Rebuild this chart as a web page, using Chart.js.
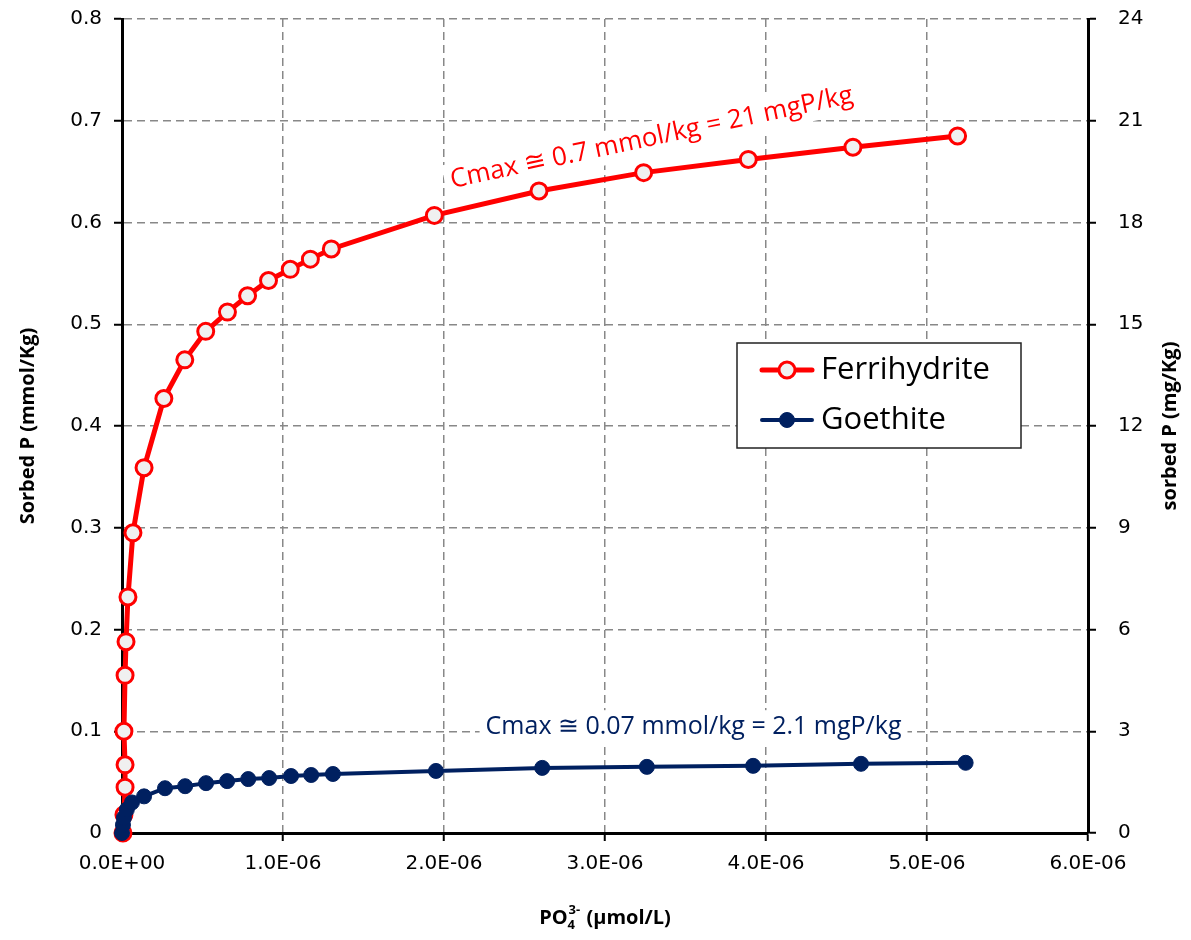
<!DOCTYPE html>
<html>
<head>
<meta charset="utf-8">
<script src="https://cdn.jsdelivr.net/npm/chart.js@4.4.1/dist/chart.umd.min.js"></script>
<style>
html,body{margin:0;padding:0;background:#fff;}
canvas{display:block;}
</style>
</head>
<body>
<canvas id="c" width="1191" height="940"></canvas>
<script>
// ---- Data ----
const ferriX = [0.006e-6, 0.012e-6, 0.019e-6, 0.019e-6, 0.012e-6, 0.019e-6, 0.025e-6, 0.037e-6, 0.068e-6, 0.137e-6, 0.26e-6, 0.39e-6, 0.52e-6, 0.655e-6, 0.78e-6, 0.91e-6, 1.045e-6, 1.17e-6, 1.30e-6, 1.94e-6, 2.59e-6, 3.24e-6, 3.89e-6, 4.54e-6, 5.19e-6];
const ferriY = [0, 0.018, 0.045, 0.067, 0.100, 0.155, 0.188, 0.232, 0.295, 0.359, 0.427, 0.465, 0.493, 0.512, 0.528, 0.543, 0.554, 0.564, 0.574, 0.607, 0.631, 0.649, 0.662, 0.674, 0.685];
const goeX = [0, 0.006e-6, 0.012e-6, 0.03e-6, 0.062e-6, 0.137e-6, 0.267e-6, 0.392e-6, 0.522e-6, 0.653e-6, 0.784e-6, 0.914e-6, 1.05e-6, 1.175e-6, 1.31e-6, 1.95e-6, 2.61e-6, 3.26e-6, 3.92e-6, 4.59e-6, 5.24e-6];
const goeY = [0, 0.008, 0.015, 0.023, 0.030, 0.036, 0.044, 0.046, 0.049, 0.051, 0.053, 0.054, 0.056, 0.057, 0.058, 0.061, 0.064, 0.065, 0.066, 0.068, 0.069];
const xTickLabels = ['0.0E+00', '1.0E-06', '2.0E-06', '3.0E-06', '4.0E-06', '5.0E-06', '6.0E-06'];
const yLeftTickLabels = ['0', '0.1', '0.2', '0.3', '0.4', '0.5', '0.6', '0.7', '0.8'];
const yRightTickLabels = ['0', '3', '6', '9', '12', '15', '18', '21', '24'];
const seriesNames = ['Ferrihydrite', 'Goethite'];
const annotFerri = 'Cmax \u2245 0.7 mmol/kg = 21 mgP/kg';
const annotGoe = 'Cmax \u2245 0.07 mmol/kg = 2.1 mgP/kg';

const RED = '#ff0000';
const NAVY = '#002060';
const TICK_FONT = {family: "'DejaVu Sans', Verdana, sans-serif", size: 20};
const TITLE_FONT = "bold 20px 'Open Sans', sans-serif";
const SMALL_FONT = "bold 13px 'Open Sans', sans-serif";
const NOTE_FONT = "25px 'Open Sans', sans-serif";

const toPts = (xs, ys) => xs.map((x, i) => ({x: x, y: ys[i]}));

function gridOpts(onArea) {
  return {
    drawOnChartArea: onArea,
    color: '#888888',
    lineWidth: 1.5,
    tickColor: '#000000',
    tickLength: 8,
    tickWidth: 2
  };
}

const annotPlugin = {
  id: 'annot',
  beforeDatasetsDraw(chart) {
    const {ctx, scales} = chart;
    const x = scales.x, y = scales.y;
    // Goethite note (horizontal, white box)
    ctx.save();
    ctx.font = NOTE_FONT;
    ctx.textAlign = 'center';
    ctx.textBaseline = 'middle';
    let cx = x.getPixelForValue(3.55e-6), cy = y.getPixelForValue(0.104);
    let w = ctx.measureText(annotGoe).width;
    ctx.fillStyle = '#ffffff';
    ctx.fillRect(cx - w / 2 - 6, cy - 17, w + 12, 34);
    ctx.fillStyle = NAVY;
    ctx.fillText(annotGoe, cx, cy);
    ctx.restore();
    // Ferrihydrite note (rotated)
    ctx.save();
    ctx.font = "26px 'Open Sans', sans-serif";
    ctx.textAlign = 'center';
    ctx.textBaseline = 'middle';
    cx = x.getPixelForValue(3.29e-6); cy = y.getPixelForValue(0.683);
    ctx.translate(cx, cy);
    ctx.rotate(-12 * Math.PI / 180);
    w = ctx.measureText(annotFerri).width;
    ctx.fillStyle = '#ffffff';
    ctx.fillRect(-w / 2 - 6, -17, w + 12, 34);
    ctx.fillStyle = RED;
    ctx.fillText(annotFerri, 0, 0);
    ctx.restore();
  },
  afterDraw(chart) {
    const {ctx, chartArea} = chart;
    // Axis titles
    ctx.save();
    ctx.fillStyle = '#000';
    ctx.font = TITLE_FONT;
    ctx.textAlign = 'center';
    ctx.textBaseline = 'middle';
    const midY = (chartArea.top + chartArea.bottom) / 2;
    ctx.save();
    ctx.translate(28, midY);
    ctx.rotate(-Math.PI / 2);
    ctx.fillText('Sorbed P (mmol/Kg)', 0, 0);
    ctx.restore();
    ctx.save();
    ctx.translate(1170, midY);
    ctx.rotate(-Math.PI / 2);
    ctx.fillText('sorbed P (mg/Kg)', 0, 0);
    ctx.restore();
    // x title with sub/superscript
    const midX = (chartArea.left + chartArea.right) / 2;
    const ty = 918;
    ctx.textAlign = 'left';
    const p1 = 'PO', p2 = '4', p3 = '3-', p4 = ' (\u00b5mol/L)';
    ctx.font = TITLE_FONT; const w1 = ctx.measureText(p1).width, w4 = ctx.measureText(p4).width;
    ctx.font = SMALL_FONT; const w2 = ctx.measureText(p2).width, w3 = ctx.measureText(p3).width;
    const tot = w1 + Math.max(w2, w3) + w4 + 2;
    let sx = midX - tot / 2;
    ctx.font = TITLE_FONT; ctx.fillText(p1, sx, ty); sx += w1;
    ctx.font = SMALL_FONT; ctx.fillText(p2, sx, ty + 7); ctx.fillText(p3, sx + 1, ty - 8); sx += Math.max(w2, w3) + 2;
    ctx.font = TITLE_FONT; ctx.fillText(p4, sx, ty);
    ctx.restore();

    // Legend
    const ds = chart.data.datasets;
    const bx = 737, by = 343, bw = 284, bh = 105;
    ctx.save();
    ctx.fillStyle = '#ffffff';
    ctx.fillRect(bx, by, bw, bh);
    ctx.strokeStyle = '#222';
    ctx.lineWidth = 1.5;
    ctx.strokeRect(bx, by, bw, bh);
    const rows = [370, 420];
    ds.forEach((d, i) => {
      const ry = rows[i];
      ctx.strokeStyle = d.borderColor;
      ctx.lineWidth = d.borderWidth;
      ctx.lineCap = 'round';
      ctx.beginPath(); ctx.moveTo(762, ry); ctx.lineTo(812, ry); ctx.stroke();
      ctx.beginPath(); ctx.arc(787, ry, d.pointRadius, 0, Math.PI * 2);
      ctx.fillStyle = d.pointBackgroundColor; ctx.fill();
      ctx.lineWidth = d.pointBorderWidth; ctx.strokeStyle = d.pointBorderColor; ctx.stroke();
      ctx.fillStyle = '#000';
      ctx.font = "31px 'Open Sans', sans-serif";
      ctx.textAlign = 'left';
      ctx.textBaseline = 'middle';
      ctx.fillText(d.label, 821, ry);
    });
    ctx.restore();
  }
};

new Chart(document.getElementById('c'), {
  type: 'line',
  data: {
    datasets: [
      {
        label: seriesNames[0],
        data: toPts(ferriX, ferriY),
        borderColor: RED, borderWidth: 5,
        pointRadius: 8, pointBackgroundColor: '#f0f0f0', pointBorderColor: RED, pointBorderWidth: 3,
        tension: 0, order: 1, clip: false
      },
      {
        label: seriesNames[1],
        data: toPts(goeX, goeY),
        borderColor: NAVY, borderWidth: 4,
        pointRadius: 7.5, pointBackgroundColor: NAVY, pointBorderColor: NAVY, pointBorderWidth: 1,
        tension: 0, order: 0, clip: false
      }
    ]
  },
  options: {
    responsive: false,
    animation: false,
    devicePixelRatio: 1,
    layout: {padding: {top: 19, left: 0, right: 0, bottom: 0}},
    plugins: {legend: {display: false}, tooltip: {enabled: false}},
    scales: {
      x: {
        type: 'linear', min: 0, max: 6e-6,
        ticks: {stepSize: 1e-6, color: '#000', font: TICK_FONT, padding: 11, maxRotation: 0,
          callback: (v, i) => xTickLabels[i]},
        grid: gridOpts(true),
        border: {color: '#000', width: 3, dash: [8, 5]},
        afterFit: s => { s.height = 107; s.paddingLeft = 0; s.paddingRight = 0; }
      },
      y: {
        position: 'left', min: 0, max: 0.8,
        ticks: {stepSize: 0.1, color: '#000', font: TICK_FONT, padding: 12,
          callback: (v, i) => yLeftTickLabels[i]},
        grid: gridOpts(true),
        border: {color: '#000', width: 3, dash: [8, 5]},
        afterFit: s => { s.width = 122; s.paddingTop = 0; s.paddingBottom = 0; }
      },
      y2: {
        position: 'right', min: 0, max: 24,
        ticks: {stepSize: 3, color: '#000', font: TICK_FONT, padding: 22,
          callback: (v, i) => yRightTickLabels[i]},
        grid: gridOpts(false),
        border: {color: '#000', width: 3},
        afterFit: s => { s.width = 103; s.paddingTop = 0; s.paddingBottom = 0; }
      }
    }
  },
  plugins: [annotPlugin]
});
</script>
</body>
</html>
